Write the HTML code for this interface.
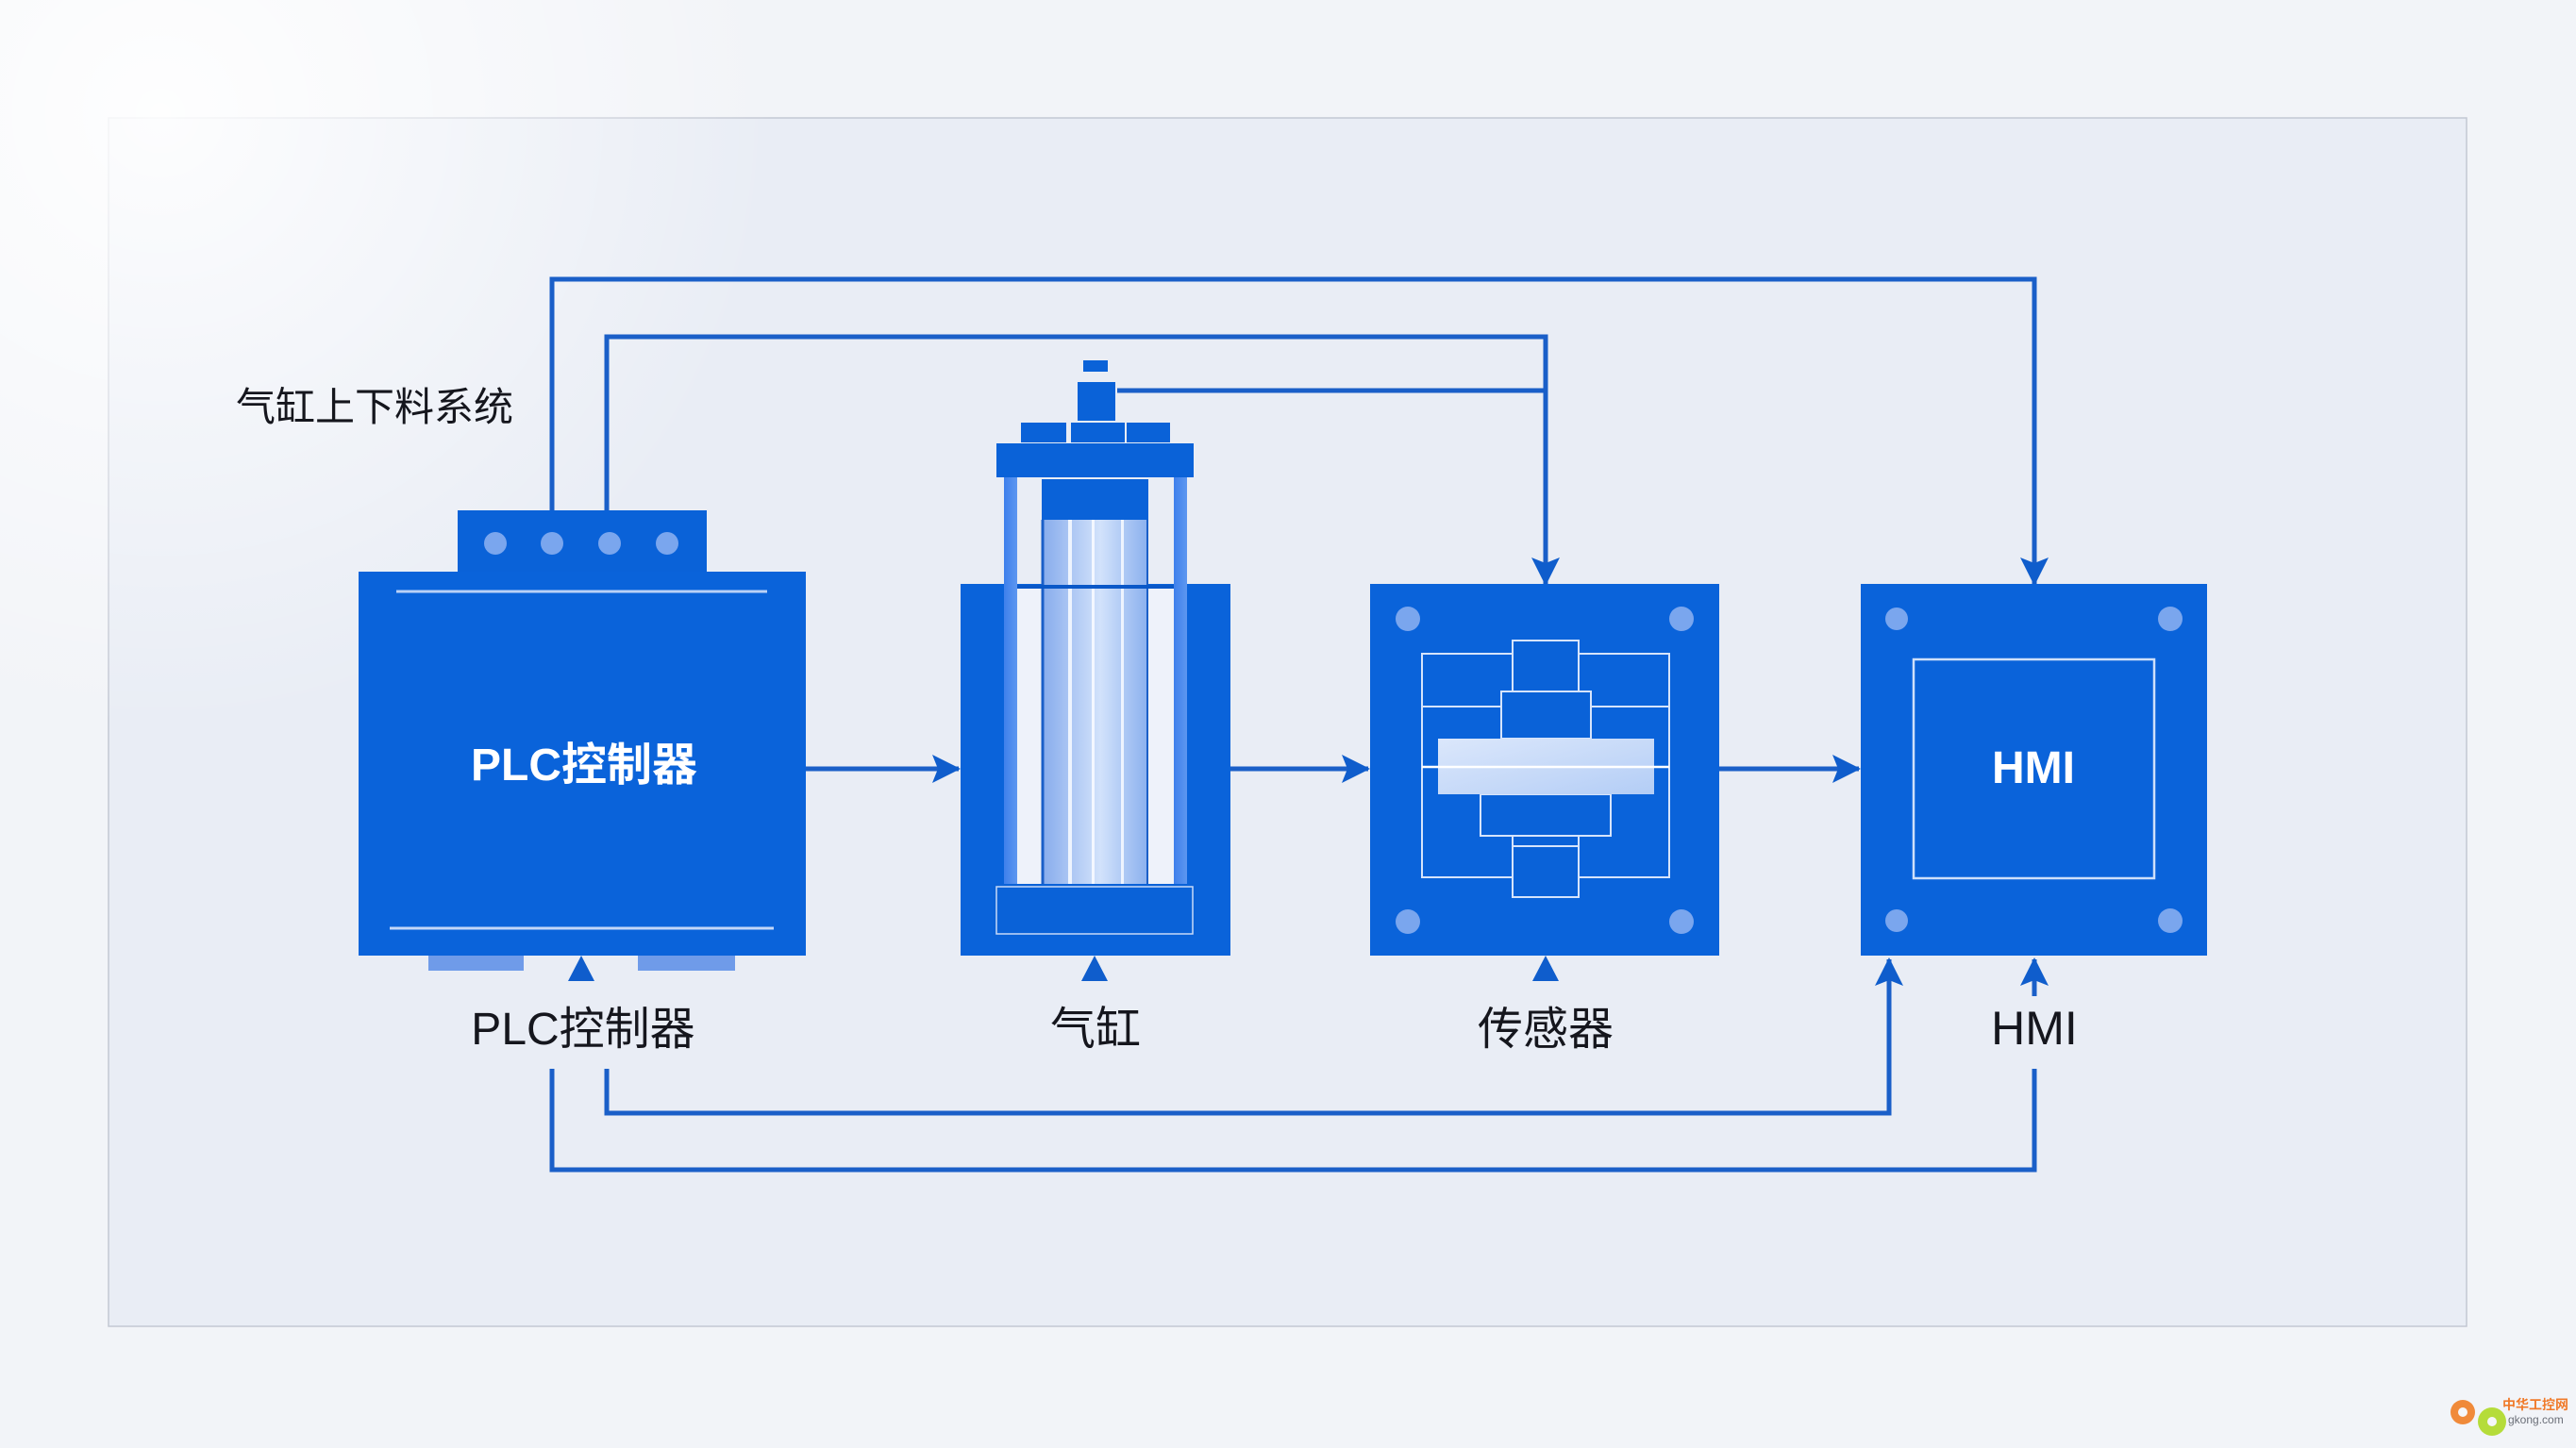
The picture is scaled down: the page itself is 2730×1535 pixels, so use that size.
<!DOCTYPE html>
<html>
<head>
<meta charset="utf-8">
<style>
  html,body{margin:0;padding:0;background:#f2f4f8;}
  svg{display:block;}
  .lbl{font-family:"Liberation Sans","Noto Sans CJK SC",sans-serif;fill:#15161d;}
  .in{font-family:"Liberation Sans","Noto Sans CJK SC",sans-serif;fill:#ffffff;font-weight:bold;}
</style>
</head>
<body>
<svg width="2730" height="1535" viewBox="0 0 2730 1535" xmlns="http://www.w3.org/2000/svg">
  <defs>
    <radialGradient id="fadeTL" gradientUnits="userSpaceOnUse" cx="170" cy="120" r="650">
      <stop offset="0" stop-color="#ffffff" stop-opacity="0.9"/>
      <stop offset="0.5" stop-color="#ffffff" stop-opacity="0.45"/>
      <stop offset="1" stop-color="#ffffff" stop-opacity="0"/>
    </radialGradient>
    <linearGradient id="glass" x1="0" y1="0" x2="1" y2="0">
      <stop offset="0" stop-color="#86abec"/>
      <stop offset="0.55" stop-color="#d2e2fb"/>
      <stop offset="1" stop-color="#8ab0ee"/>
    </linearGradient>
    <linearGradient id="bar" x1="0" y1="0" x2="1" y2="1">
      <stop offset="0" stop-color="#dbe7fb"/>
      <stop offset="0.6" stop-color="#c4d8f8"/>
      <stop offset="1" stop-color="#b3cdf6"/>
    </linearGradient>
    <linearGradient id="rod" x1="0" y1="0" x2="1" y2="0">
      <stop offset="0" stop-color="#3e80ec"/>
      <stop offset="1" stop-color="#5d97f0"/>
    </linearGradient>
    <marker id="ah" viewBox="0 0 30 30" refX="28" refY="15" markerWidth="30" markerHeight="30" markerUnits="userSpaceOnUse" orient="auto">
      <path d="M0,0 L30,15 L0,30 L6,15 Z" fill="#0f5dcc"/>
    </marker>
  </defs>

  <!-- background -->
  <rect x="0" y="0" width="2730" height="1535" fill="#f2f4f8"/>
  <!-- panel -->
  <rect x="115" y="125" width="2499" height="1281" fill="#e9edf5" stroke="#c3c8d3" stroke-width="1.5"/>
  <rect x="0" y="0" width="2730" height="1535" fill="url(#fadeTL)"/>

  <!-- title -->
  <text class="lbl" x="250" y="446" font-size="42">气缸上下料系统</text>

  <!-- ============ connectors ============ -->
  <g fill="none" stroke="#1a5fc8" stroke-width="5">
    <polyline points="585,541 585,296 2156,296 2156,619" marker-end="url(#ah)"/>
    <polyline points="643,541 643,357 1638,357 1638,619" marker-end="url(#ah)"/>
    <line x1="1184" y1="414" x2="1638" y2="414"/>
    <line x1="854" y1="815" x2="1016" y2="815" marker-end="url(#ah)"/>
    <line x1="1304" y1="815" x2="1450" y2="815" marker-end="url(#ah)"/>
    <line x1="1822" y1="815" x2="1970" y2="815" marker-end="url(#ah)"/>
    <polyline points="643,1133 643,1180 2002,1180 2002,1017" marker-end="url(#ah)"/>
    <polyline points="585,1133 585,1240 2156,1240 2156,1133"/>
    <line x1="2156" y1="1056" x2="2156" y2="1017" marker-end="url(#ah)"/>
  </g>

  <!-- ============ PLC controller ============ -->
  <rect x="485" y="541" width="264" height="66" fill="#0a62d8"/>
  <g fill="#7aa6ee">
    <circle cx="525" cy="576" r="12"/>
    <circle cx="585" cy="576" r="12"/>
    <circle cx="646" cy="576" r="12"/>
    <circle cx="707" cy="576" r="12"/>
  </g>
  <rect x="380" y="606" width="474" height="407" fill="#0a63da"/>
  <line x1="420" y1="627" x2="813" y2="627" stroke="#b9d1f6" stroke-width="3"/>
  <line x1="413" y1="984" x2="820" y2="984" stroke="#c3d7f8" stroke-width="3"/>
  <rect x="454" y="1013" width="101" height="16" fill="#6f9be9"/>
  <rect x="676" y="1013" width="103" height="16" fill="#6f9be9"/>
  <text class="in" x="619" y="827" font-size="48" text-anchor="middle">PLC控制器</text>
  <path d="M616,1013 L630,1040 L602,1040 Z" fill="#0f5dcc"/>

  <!-- ============ Cylinder ============ -->
  <rect x="1018" y="619" width="286" height="394" fill="#0a63da"/>
  <rect x="1064" y="622" width="194" height="316" fill="#eef2fa"/>
  <rect x="1148" y="382" width="26" height="12" fill="#0a62d8"/>
  <rect x="1142" y="405" width="40" height="41" fill="#0a62d8"/>
  <rect x="1082" y="448" width="48" height="21" fill="#0a62d8"/>
  <rect x="1135" y="448" width="57" height="21" fill="#0a62d8"/>
  <rect x="1194" y="448" width="46" height="21" fill="#0a62d8"/>
  <rect x="1056" y="470" width="209" height="36" fill="#0a62d8"/>
  <rect x="1064" y="506" width="14" height="433" fill="url(#rod)"/>
  <rect x="1244" y="506" width="14" height="433" fill="url(#rod)"/>
  <rect x="1104" y="508" width="113" height="43" fill="#0a62d8"/>
  <rect x="1104" y="551" width="113" height="388" fill="url(#glass)"/>
  <line x1="1105" y1="551" x2="1105" y2="939" stroke="#1a5fc8" stroke-width="3"/>
  <line x1="1216" y1="551" x2="1216" y2="939" stroke="#1a5fc8" stroke-width="2"/>
  <rect x="1132" y="551" width="4" height="388" fill="#eef4fe"/>
  <rect x="1157" y="551" width="3" height="388" fill="#f3f7ff"/>
  <rect x="1188" y="551" width="3" height="388" fill="#eef4fe"/>
  <line x1="1078" y1="622" x2="1244" y2="622" stroke="#0a58c8" stroke-width="4"/>
  <rect x="1053" y="937" width="214" height="56" fill="#0a62d8"/>
  <rect x="1056" y="940" width="208" height="50" fill="none" stroke="#c7daf8" stroke-width="1.5"/>
  <path d="M1160,1013 L1174,1040 L1146,1040 Z" fill="#0f5dcc"/>

  <!-- ============ Sensor ============ -->
  <rect x="1452" y="619" width="370" height="394" fill="#0a63da"/>
  <g fill="#7aa6ee">
    <circle cx="1492" cy="656" r="13"/>
    <circle cx="1782" cy="656" r="13"/>
    <circle cx="1492" cy="977" r="13"/>
    <circle cx="1782" cy="977" r="13"/>
  </g>
  <g stroke="#d6e4fb" stroke-width="2" fill="none">
    <rect x="1507" y="693" width="262" height="237"/>
    <line x1="1507" y1="749" x2="1769" y2="749"/>
  </g>
  <g stroke="#d6e4fb" stroke-width="2" fill="#0a62d8">
    <rect x="1603" y="679" width="70" height="54"/>
    <rect x="1591" y="733" width="95" height="50"/>
    <rect x="1603" y="886" width="70" height="65"/>
    <rect x="1569" y="842" width="138" height="44"/>
  </g>
  <line x1="1603" y1="897" x2="1673" y2="897" stroke="#d6e4fb" stroke-width="2"/>
  <rect x="1524" y="783" width="229" height="59" fill="url(#bar)"/>
  <line x1="1507" y1="813" x2="1769" y2="813" stroke="#ffffff" stroke-width="2.5"/>
  <path d="M1638,1013 L1652,1040 L1624,1040 Z" fill="#0f5dcc"/>

  <!-- ============ HMI ============ -->
  <rect x="1972" y="619" width="367" height="394" fill="#0a63da"/>
  <g fill="#7aa6ee">
    <circle cx="2010" cy="656" r="12"/>
    <circle cx="2300" cy="656" r="13"/>
    <circle cx="2010" cy="976" r="12"/>
    <circle cx="2300" cy="976" r="13"/>
  </g>
  <rect x="2028" y="699" width="255" height="232" fill="none" stroke="#cfe0fa" stroke-width="2.5"/>
  <text class="in" x="2155" y="830" font-size="48" text-anchor="middle">HMI</text>

  <!-- ============ labels ============ -->
  <text class="lbl" x="618" y="1107" font-size="48" text-anchor="middle">PLC控制器</text>
  <text class="lbl" x="1161" y="1107" font-size="48" text-anchor="middle">气缸</text>
  <text class="lbl" x="1638" y="1107" font-size="48" text-anchor="middle">传感器</text>
  <text class="lbl" x="2156" y="1107" font-size="50" text-anchor="middle">HMI</text>

  <!-- watermark -->
  <g>
    <circle cx="2610" cy="1497" r="13" fill="#f08a3a"/>
    <circle cx="2610" cy="1497" r="5" fill="#f5f6f9"/>
    <circle cx="2641" cy="1507" r="15" fill="#b5dc3a"/>
    <circle cx="2641" cy="1507" r="5" fill="#f5f6f9"/>
    <text x="2652" y="1494" font-size="14" fill="#f07a2a" font-family="Liberation Sans, Noto Sans CJK SC, sans-serif" font-weight="bold">中华工控网</text>
    <text x="2658" y="1509" font-size="12" fill="#6b6f78" font-family="Liberation Sans, sans-serif">gkong.com</text>
  </g>
</svg>
</body>
</html>
